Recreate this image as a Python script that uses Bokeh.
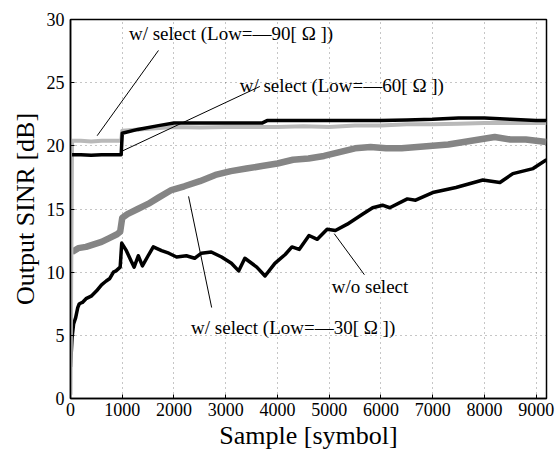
from bokeh.plotting import figure
from bokeh.models import Label, Range1d, FixedTicker, LinearAxis
from bokeh.embed import file_html
from bokeh.resources import INLINE

# ---------------- data ----------------
x_ticks = [0, 1000, 2000, 3000, 4000, 5000, 6000, 7000, 8000, 9000]
y_ticks = [0, 5, 10, 15, 20, 25, 30]

low90_x = [0, 30, 200, 400, 600, 800, 980, 1000, 1200, 1500, 2000, 2500, 3000, 3500, 4000, 4500, 5000,
           5500, 6000, 6500, 7000, 7500, 8000, 8500, 9000, 9200]
low90_y = [0.3, 20.4, 20.4, 20.35, 20.4, 20.4, 20.4, 21.2, 21.25, 21.35, 21.5, 21.45, 21.5, 21.5, 21.5, 21.55, 21.5,
           21.6, 21.6, 21.7, 21.7, 21.75, 21.8, 21.8, 21.8, 21.8]

low60_x = [30, 200, 400, 600, 800, 980, 1000, 1300, 1700, 2000, 2500, 3000, 3500, 3700, 3800, 4500, 5000,
           5500, 6000, 6500, 7000, 7500, 8000, 8500, 9000, 9200]
low60_y = [19.3, 19.3, 19.25, 19.3, 19.3, 19.3, 21.0, 21.3, 21.6, 21.8, 21.8, 21.8, 21.8, 21.8, 22.0, 22.0, 22.0,
           22.0, 22.0, 22.05, 22.1, 22.2, 22.2, 22.1, 22.0, 22.0]

low30_x = [30, 150, 300, 450, 600, 750, 900, 960, 1000, 1100, 1300, 1500, 1700, 1950, 2200, 2500, 2800, 3100,
           3400, 3700, 4000, 4300, 4600, 4900, 5200, 5500, 5800, 6100, 6400, 6700, 7000, 7300, 7600, 7900,
           8200, 8500, 8800, 9000, 9200]
low30_y = [11.6, 11.9, 12.0, 12.2, 12.4, 12.7, 13.0, 13.2, 14.3, 14.6, 15.0, 15.4, 15.9, 16.5, 16.8, 17.2, 17.7, 18.0,
           18.2, 18.4, 18.6, 18.9, 19.0, 19.2, 19.5, 19.8, 19.9, 19.8, 19.8, 19.9, 20.0, 20.1, 20.3, 20.5,
           20.7, 20.5, 20.5, 20.4, 20.3]

wo_x = [0, 30, 60, 100, 140, 170, 230, 300, 400, 500, 600, 690, 760, 830, 880, 960, 990, 1080, 1170, 1230, 1310,
        1390, 1500, 1600, 1760, 1900, 2050, 2240, 2400, 2530, 2720, 2920, 3110, 3250, 3370, 3600, 3760, 3950,
        4150, 4280, 4420, 4610, 4770, 4960, 5120, 5350, 5650, 5840, 6030, 6170, 6510, 6670, 7000, 7450, 7970,
        8300, 8550, 8940, 9200]
wo_y = [2.5, 4.8, 5.9, 6.4, 7.2, 7.5, 7.6, 7.9, 8.1, 8.5, 9.0, 9.3, 9.5, 10.0, 10.1, 10.4, 12.3, 11.7, 10.9, 10.4,
        11.3, 10.5, 11.3, 12.0, 11.7, 11.5, 11.2, 11.3, 11.1, 11.5, 11.6, 11.2, 10.7, 10.1, 11.1, 10.4, 9.7, 10.7,
        11.4, 12.0, 11.8, 12.9, 12.6, 13.4, 13.3, 13.8, 14.6, 15.1, 15.3, 15.1, 15.8, 15.7, 16.3, 16.7, 17.3,
        17.1, 17.8, 18.2, 18.9]

labels = ["w/ select (Low=\u201490[ \u03a9 ])", "w/ select (Low=\u201460[ \u03a9 ])",
          "w/ select (Low=\u201430[ \u03a9 ])", "w/o select"]

AXFONT = "Liberation Serif"


def styled_axis(ticks, label, font_size_ticks, font_size_label, standoff, label_standoff):
    ax = LinearAxis(ticker=FixedTicker(ticks=ticks), axis_label=label,
                    axis_line_color="black", axis_line_width=1.5,
                    major_tick_in=4, major_tick_out=0, minor_tick_in=0, minor_tick_out=0,
                    major_label_text_font=AXFONT, major_label_text_font_size=font_size_ticks,
                    major_label_text_color="black", major_label_standoff=standoff,
                    axis_label_text_font=AXFONT, axis_label_text_font_size=font_size_label,
                    axis_label_text_font_style="normal", axis_label_text_color="black",
                    axis_label_standoff=label_standoff)
    return ax


p = figure(width=556, height=452, output_backend="svg", toolbar_location=None,
           x_range=Range1d(0, 9200), y_range=Range1d(0, 30),
           x_axis_location=None, y_axis_location=None,
           min_border_left=70, min_border_right=10, min_border_top=19, min_border_bottom=54)
p.background_fill_color = "white"
p.border_fill_color = "white"
p.outline_line_color = "black"
p.outline_line_width = 1.5

xax = styled_axis(x_ticks, "Sample [symbol]", "18px", "26px", 4, 2)
yax = styled_axis(y_ticks, "Output SINR [dB]", "18px", "26px", 6, 4)
p.add_layout(xax, "below")
p.add_layout(yax, "left")

p.xgrid.ticker = FixedTicker(ticks=x_ticks)
p.ygrid.ticker = FixedTicker(ticks=y_ticks)
p.grid.grid_line_color = "black"
p.grid.grid_line_alpha = 0.45
p.grid.grid_line_dash = "1 4"
p.grid.grid_line_width = 1

# curves
p.line(low30_x, low30_y, line_color="#858585", line_width=6.5, line_join="round")
p.line(wo_x, wo_y, line_color="black", line_width=3.5, line_join="round")
p.line(low90_x, low90_y, line_color="#b9b9b9", line_width=4, line_join="round")
p.line(low60_x, low60_y, line_color="black", line_width=3.5, line_join="round")

# leader lines
lead_x0 = [1700, 3660, 2728, 5680]
lead_y0 = [27.55, 24.7, 7.2, 9.8]
lead_x1 = [515, 980, 2282, 5097]
lead_y1 = [20.8, 19.55, 16.0, 13.05]
p.segment(lead_x0, lead_y0, lead_x1, lead_y1, line_color="black", line_width=1)

label_x = [1130, 3270, 2330, 5050]
label_y = [28.9, 24.8, 5.6, 8.9]
for t, lx, ly in zip(labels, label_x, label_y):
    p.add_layout(Label(x=lx, y=ly, text=t, text_font="Liberation Serif", text_font_size="19px",
                       text_color="black", text_align="left", text_baseline="middle",
                       background_fill_color=None))

open("out.html", "w").write(file_html(p, INLINE))
